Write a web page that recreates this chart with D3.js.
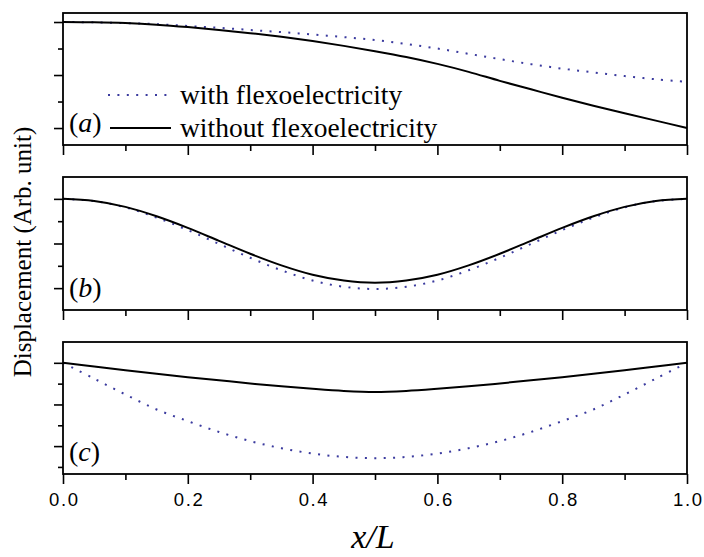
<!DOCTYPE html>
<html>
<head>
<meta charset="utf-8">
<script src="https://cdn.jsdelivr.net/npm/d3@7"></script>
<style>
html,body{margin:0;padding:0;background:#fff;}
svg{display:block;}
</style>
</head>
<body>
<script>
// ---------- data ----------
const xs = [0,0.05,0.1,0.15,0.2,0.25,0.3,0.35,0.4,0.45,0.5,0.55,0.6,0.65,0.7,0.75,0.8,0.85,0.9,0.95,1.0];

const aWith    = [0,-0.005,-0.02,-0.04,-0.075,-0.11,-0.15,-0.19,-0.235,-0.285,-0.34,-0.415,-0.50,-0.60,-0.70,-0.795,-0.88,-0.95,-1.02,-1.08,-1.13];
const aWithout = [0,-0.005,-0.02,-0.05,-0.095,-0.15,-0.21,-0.28,-0.36,-0.45,-0.55,-0.66,-0.79,-0.94,-1.11,-1.27,-1.43,-1.58,-1.72,-1.86,-2.0];

const bWith    = [0,-0.05,-0.19,-0.42,-0.70,-1.01,-1.32,-1.60,-1.83,-1.97,-2.02,-1.97,-1.83,-1.60,-1.32,-1.01,-0.70,-0.42,-0.19,-0.05,0];
const bWithout = [0,-0.05,-0.18,-0.39,-0.65,-0.94,-1.23,-1.49,-1.70,-1.83,-1.88,-1.83,-1.70,-1.49,-1.23,-0.94,-0.65,-0.39,-0.18,-0.05,0];

const cWith    = [0,-0.38,-0.76,-1.12,-1.40,-1.66,-1.88,-2.05,-2.18,-2.26,-2.29,-2.26,-2.18,-2.05,-1.88,-1.66,-1.40,-1.12,-0.76,-0.38,0];
const cWithout = [0,-0.09,-0.18,-0.265,-0.345,-0.42,-0.495,-0.565,-0.625,-0.675,-0.70,-0.675,-0.625,-0.565,-0.495,-0.42,-0.345,-0.265,-0.18,-0.09,0];

const xTicks = [0,0.2,0.4,0.6,0.8,1.0];
const xTickLabels = ["0.0","0.2","0.4","0.6","0.8","1.0"];
const xMinorTicks = [0.1,0.3,0.5,0.7,0.9];

const panelLabels = ["a","b","c"];
const legendLabels = ["with flexoelectricity","without flexoelectricity"];
const yLabel = "Displacement (Arb. unit)";
const xLabel = "x/L";

// ---------- layout ----------
const W = 704, H = 557;
const left = 63, right = 687;
const serif = "'Liberation Serif', 'Times New Roman', Times, serif";
const sans = "'Liberation Sans', Arial, Helvetica, sans-serif";
const panels = [
  {top:13,  bottom:145, domain:[-2.32,0.17], major:[0,-1,-2], minor:[-0.5,-1.5], w:aWith, wo:aWithout},
  {top:177, bottom:310, domain:[-2.49,0.49], major:[0,-1,-2], minor:[-0.5,-1.5], w:bWith, wo:bWithout},
  {top:342, bottom:474, domain:[-2.67,0.5],  major:[0,-1,-2], minor:[-0.5,-1.5,-2.5], w:cWith, wo:cWithout}
];
const dotColor = "#3a3a9e";

const svg = d3.select("body").append("svg").attr("width",W).attr("height",H);
const x = d3.scaleLinear().domain([0,1]).range([left,right]);

panels.forEach((p,i)=>{
  const y = d3.scaleLinear().domain(p.domain).range([p.bottom,p.top]);
  const g = svg.append("g");

  // bottom axis ticks (major + minor)
  const xAxMaj = d3.axisBottom(x).tickValues(xTicks).tickSize(10).tickFormat(i===2 ? (d,j)=>xTickLabels[j] : "");
  const xAxMin = d3.axisBottom(x).tickValues(xMinorTicks).tickSize(6).tickFormat("");
  const gx = g.append("g").attr("transform",`translate(0,${p.bottom})`).call(xAxMaj);
  const gxm = g.append("g").attr("transform",`translate(0,${p.bottom})`).call(xAxMin);
  [gx,gxm].forEach(a=>{
    a.select(".domain").remove();
    a.selectAll("line").attr("stroke","#000").attr("stroke-width",1.6);
  });
  gx.selectAll("text").attr("font-family",sans)
    .attr("font-size",18.5).attr("letter-spacing","1.6px").attr("fill","#000").attr("dy",0).attr("y",32).attr("dx","0.8px");

  // left axis ticks
  const yAxMaj = d3.axisLeft(y).tickValues(p.major).tickSize(9).tickFormat("");
  const yAxMin = d3.axisLeft(y).tickValues(p.minor).tickSize(5).tickFormat("");
  [yAxMaj,yAxMin].forEach(ax=>{
    const a = g.append("g").attr("transform",`translate(${left},0)`).call(ax);
    a.select(".domain").remove();
    a.selectAll("line").attr("stroke","#000").attr("stroke-width",1.6);
  });

  // curves
  const line = d3.line().x((d,j)=>x(xs[j])).y(d=>y(d)).curve(d3.curveCatmullRom.alpha(0.5));
  g.append("path").datum(p.w).attr("d",line).attr("fill","none")
    .attr("stroke",dotColor).attr("stroke-width",2).attr("stroke-dasharray","2,7.4");
  g.append("path").datum(p.wo).attr("d",line).attr("fill","none")
    .attr("stroke","#000").attr("stroke-width",2);

  // frame
  g.append("rect").attr("x",left).attr("y",p.top).attr("width",right-left).attr("height",p.bottom-p.top)
    .attr("fill","none").attr("stroke","#000").attr("stroke-width",1.8);

  // panel label
  const t = g.append("text").attr("x",69).attr("y",p.bottom-13)
    .attr("font-family",serif).attr("font-size",28).attr("fill","#000");
  t.append("tspan").text("(");
  t.append("tspan").attr("font-style","italic").text(panelLabels[i]);
  t.append("tspan").text(")");
});

// legend (in panel a)
const lg = svg.append("g");
lg.append("line").attr("x1",108).attr("x2",168).attr("y1",95).attr("y2",95)
  .attr("stroke",dotColor).attr("stroke-width",2).attr("stroke-dasharray","2,7.4");
lg.append("line").attr("x1",110).attr("x2",171).attr("y1",128).attr("y2",128)
  .attr("stroke","#000").attr("stroke-width",2);
lg.selectAll("text.leg").data(legendLabels).enter().append("text").attr("class","leg")
  .attr("x",180).attr("y",(d,i)=> i===0 ? 104 : 137)
  .attr("font-family",serif).attr("font-size",27.5).attr("fill","#000")
  .text(d=>d);

// axis titles
svg.append("text").attr("transform","translate(31,252) rotate(-90)").attr("text-anchor","middle")
  .attr("font-family",serif).attr("font-size",25).attr("fill","#000")
  .text(yLabel);
svg.append("text").attr("x",x(0.5)-2).attr("y",548).attr("text-anchor","middle")
  .attr("font-family",serif).attr("font-style","italic")
  .attr("font-size",34).attr("fill","#000").text(xLabel);
</script>
</body>
</html>
